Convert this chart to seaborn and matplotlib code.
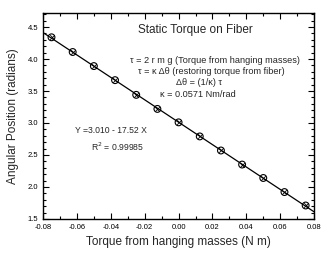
import matplotlib
matplotlib.use("Agg")
import matplotlib.pyplot as plt
import seaborn as sns
import numpy as np
import pandas as pd
from matplotlib.ticker import MultipleLocator

torque = [-0.075, -0.0625, -0.05, -0.0375, -0.025, -0.0125, 0.0,
          0.0125, 0.025, 0.0375, 0.05, 0.0625, 0.075]
angle = [4.34, 4.11, 3.89, 3.67, 3.44, 3.22, 3.01,
         2.79, 2.57, 2.35, 2.14, 1.92, 1.71]
df = pd.DataFrame({"torque": torque, "angle": angle})

sns.set_style("ticks")
plt.rcParams['font.family'] = ['Liberation Sans', 'DejaVu Sans']

fig = plt.figure(figsize=(3.31, 2.60), dpi=100)
ax = fig.add_axes([0.130, 0.158, 0.819, 0.792])
ax.set_xlim(-0.08, 0.08)
ax.set_ylim(1.5, 4.72)

sns.regplot(data=df, x="torque", y="angle", ax=ax, ci=None, truncate=False,
            scatter=False, line_kws=dict(color="black", lw=0.9))
sns.scatterplot(data=df, x="torque", y="angle", ax=ax, marker="o", s=24,
                facecolor="none", edgecolor="black", linewidth=0.8, zorder=3)
sns.scatterplot(data=df, x="torque", y="angle", ax=ax, marker="x", s=11,
                color="black", linewidth=0.6, zorder=3)
ax.set_xlim(-0.08, 0.08)
ax.set_ylim(1.5, 4.72)

ax.xaxis.set_major_locator(MultipleLocator(0.02))
ax.xaxis.set_minor_locator(MultipleLocator(0.01))
ax.yaxis.set_major_locator(MultipleLocator(0.5))
ax.yaxis.set_minor_locator(MultipleLocator(0.1))
ax.tick_params(which="both", direction="in", top=True, right=True,
               labelsize=5.5, width=0.8, colors="black")
ax.tick_params(which="major", length=4)
ax.tick_params(which="minor", length=2)
ax.xaxis.set_major_formatter(matplotlib.ticker.FormatStrFormatter("%.2f"))
ax.yaxis.set_major_formatter(matplotlib.ticker.FormatStrFormatter("%.1f"))
for s in ax.spines.values():
    s.set_linewidth(1.0)
    s.set_color("black")

ax.set_xlabel("Torque from hanging masses (N m)", fontsize=8.5, labelpad=4)
ax.set_ylabel("Angular Position (radians)", fontsize=8.5, labelpad=6)

ax.text(0.0097, 4.45, "Static Torque on Fiber", fontsize=8.5, ha="center", va="center")
ax.text(0.0216, 3.985, "τ = 2 r m g (Torque from hanging masses)", fontsize=6.6, ha="center", va="center")
ax.text(0.0192, 3.81, "τ = κ Δθ (restoring torque from fiber)", fontsize=6.6, ha="center", va="center")
ax.text(0.0121, 3.64, "Δθ = (1/κ) τ", fontsize=6.6, ha="center", va="center")
ax.text(0.0115, 3.45, "κ = 0.0571 Nm/rad", fontsize=6.6, ha="center", va="center")
ax.text(-0.0399, 2.89, "Y =3.010 - 17.52 X", fontsize=6.2, ha="center", va="center")
ax.text(-0.0363, 2.63, "R$^2$ = 0.99985", fontsize=6.2, ha="center", va="center")

fig.savefig("out.png", dpi=100)
